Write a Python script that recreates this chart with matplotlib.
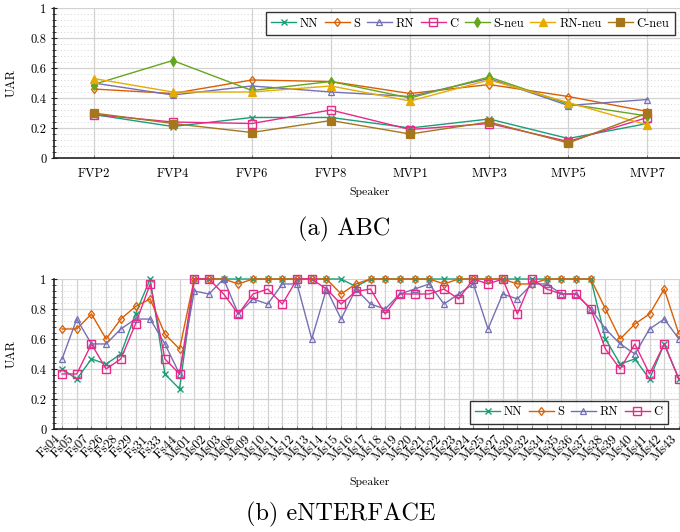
import matplotlib
matplotlib.use("Agg")
import matplotlib.pyplot as plt
import matplotlib.transforms as mtransforms
from matplotlib.ticker import MultipleLocator, FixedLocator, FixedFormatter

# ---------------- data ----------------
abc_speakers = ['FVP2', 'FVP4', 'FVP6', 'FVP8', 'MVP1', 'MVP3', 'MVP5', 'MVP7']
abc_nn = [0.29, 0.21, 0.27, 0.27, 0.20, 0.26, 0.13, 0.23]
abc_s = [0.46, 0.43, 0.52, 0.51, 0.43, 0.49, 0.41, 0.31]
abc_rn = [0.50, 0.42, 0.48, 0.44, 0.41, 0.53, 0.35, 0.39]
abc_c = [0.29, 0.24, 0.23, 0.32, 0.19, 0.23, 0.11, 0.27]
abc_sneu = [0.49, 0.65, 0.45, 0.51, 0.40, 0.54, 0.36, 0.28]
abc_rnneu = [0.53, 0.44, 0.44, 0.48, 0.38, 0.52, 0.37, 0.22]
abc_cneu = [0.30, 0.23, 0.17, 0.25, 0.16, 0.24, 0.10, 0.30]

ent_speakers = ['Fs04', 'Fs05', 'Fs07', 'Fs26', 'Fs28', 'Fs29', 'Fs31', 'Fs33', 'Fs44',
                'Ms01', 'Ms02', 'Ms03', 'Ms08', 'Ms09', 'Ms10', 'Ms11', 'Ms12', 'Ms13',
                'Ms14', 'Ms15', 'Ms16', 'Ms17', 'Ms18', 'Ms19', 'Ms20', 'Ms21', 'Ms22',
                'Ms23', 'Ms24', 'Ms25', 'Ms27', 'Ms30', 'Ms32', 'Ms34', 'Ms35', 'Ms36',
                'Ms37', 'Ms38', 'Ms39', 'Ms40', 'Ms41', 'Ms42', 'Ms43']
ent_nn = [0.400, 0.333, 0.467, 0.433, 0.500, 0.767, 1.000, 0.367, 0.267,
          1.000, 1.000, 1.000, 1.000, 1.000, 1.000, 1.000, 1.000, 1.000,
          1.000, 1.000, 0.950, 1.000, 1.000, 1.000, 1.000, 1.000, 1.000,
          1.000, 1.000, 1.000, 1.000, 1.000, 1.000, 1.000, 1.000, 1.000,
          1.000, 0.600, 0.433, 0.467, 0.333, 0.567, 0.333]
ent_s = [0.667, 0.667, 0.767, 0.600, 0.733, 0.817, 0.867, 0.633, 0.533,
         1.000, 1.000, 1.000, 0.967, 1.000, 1.000, 1.000, 1.000, 1.000,
         1.000, 0.900, 0.967, 1.000, 1.000, 1.000, 1.000, 1.000, 0.967,
         1.000, 1.000, 1.000, 1.000, 0.967, 0.967, 1.000, 1.000, 1.000,
         1.000, 0.800, 0.600, 0.700, 0.767, 0.933, 0.633]
ent_rn = [0.467, 0.733, 0.567, 0.567, 0.667, 0.733, 0.733, 0.567, 0.367,
          0.920, 0.900, 1.000, 0.767, 0.867, 0.833, 0.967, 0.967, 0.600,
          0.933, 0.733, 0.933, 0.833, 0.800, 0.900, 0.933, 0.967, 0.833,
          0.900, 0.967, 0.667, 0.900, 0.867, 0.967, 0.967, 0.900, 0.900,
          0.800, 0.667, 0.567, 0.500, 0.667, 0.733, 0.600]
ent_c = [0.367, 0.367, 0.567, 0.400, 0.467, 0.700, 0.967, 0.467, 0.367,
         1.000, 1.000, 0.900, 0.767, 0.900, 0.933, 0.833, 1.000, 1.000,
         0.933, 0.833, 0.917, 0.933, 0.767, 0.900, 0.900, 0.900, 0.933,
         0.867, 1.000, 0.967, 1.000, 0.767, 1.000, 0.933, 0.900, 0.900,
         0.800, 0.533, 0.400, 0.567, 0.367, 0.567, 0.333]

# ---------------- style ----------------
plt.rcParams['font.family'] = ['cmr10', 'DejaVu Serif']
plt.rcParams['mathtext.fontset'] = 'cm'
plt.rcParams['axes.formatter.use_mathtext'] = True

W, H = 680, 532
fig = plt.figure(figsize=(W / 100, H / 100), dpi=100)

styles = {
    'NN':     dict(color='#1b9e77', marker='x', ms=4, mew=1.0, mfc='none'),
    'S':      dict(color='#d95f02', marker='d', ms=4.5, mew=0.9, mfc='none'),
    'RN':     dict(color='#7570b3', marker='^', ms=5, mew=0.9, mfc='none'),
    'C':      dict(color='#e7298a', marker='s', ms=5.5, mew=1.0, mfc='none'),
    'S-neu':  dict(color='#66a61e', marker='d', ms=5, mew=0.9),
    'RN-neu': dict(color='#e6ab02', marker='^', ms=5.5, mew=0.9),
    'C-neu':  dict(color='#a6761d', marker='s', ms=6, mew=0.9),
}


def style_axes(ax, n):
    ax.set_xlim(-0.5 if n < 20 else -0.55, n - 0.5 if n < 20 else n - 0.45)
    ax.set_ylim(0, 1)
    ax.yaxis.set_major_locator(FixedLocator([0, 0.2, 0.4, 0.6, 0.8, 1.0]))
    ax.yaxis.set_major_formatter(FixedFormatter(['0', '0.2', '0.4', '0.6', '0.8', '1']))
    ax.yaxis.set_minor_locator(MultipleLocator(0.04))
    ax.grid(which='major', color='#d2d2d2', lw=0.9, zorder=0)
    ax.grid(which='minor', axis='y', color='#c8c8c8', ls=(0, (1, 3)), lw=0.6, zorder=0)
    for sp in ('top', 'right'):
        ax.spines[sp].set_visible(False)
    for sp in ('left', 'bottom'):
        ax.spines[sp].set_color('#222222')
        ax.spines[sp].set_linewidth(1.2)
    ax.tick_params(axis='y', which='major', direction='inout', length=5, width=0.8,
                   labelsize=9, pad=3, colors='#222222', labelcolor='black')
    ax.tick_params(axis='y', which='minor', direction='inout', length=3, width=0.6,
                   colors='#222222')
    ax.tick_params(axis='x', which='major', direction='in', length=2.5, width=0.6,
                   colors='#666666', labelcolor='black')
    ax.set_axisbelow(True)


leg_kw = dict(fontsize=9, frameon=True, fancybox=False, edgecolor='black',
              handlelength=2.0, handletextpad=0.3, columnspacing=0.5,
              borderpad=0.45, borderaxespad=0)

# ---------------- top: ABC ----------------
ax1 = fig.add_axes([54 / W, 1 - 158 / H, 633 / W, 150 / H])
x1 = range(len(abc_speakers))
series1 = [('NN', abc_nn), ('S', abc_s), ('RN', abc_rn), ('C', abc_c),
           ('S-neu', abc_sneu), ('RN-neu', abc_rnneu), ('C-neu', abc_cneu)]
handles1 = []
for name, vals in series1:
    h, = ax1.plot(x1, vals, lw=1.0, label=name, zorder=3, clip_on=False, **styles[name])
    handles1.append(h)
style_axes(ax1, len(abc_speakers))
ax1.set_xticks(list(x1))
ax1.set_xticklabels(abc_speakers, fontsize=9)
ax1.tick_params(axis='x', pad=7)
leg1 = fig.legend(handles=handles1, loc='upper right', ncol=7,
                  bbox_to_anchor=(675 / W, 1 - 12 / H), bbox_transform=fig.transFigure,
                  **leg_kw)
leg1.get_frame().set_linewidth(1.0)

fig.text(370 / W, 1 - 192 / H, 'Speaker', ha='center', va='center', fontsize=8.5)
fig.text(12 / W, 1 - 83 / H, 'UAR', ha='center', va='center', rotation=90, fontsize=9)
fig.text(344 / W, 1 - 229 / H, '(a) ABC', ha='center', va='center', fontsize=17.5)

# ---------------- bottom: eNTERFACE ----------------
ax2 = fig.add_axes([54 / W, 1 - 429 / H, 633 / W, 150 / H])
x2 = range(len(ent_speakers))
series2 = [('NN', ent_nn), ('S', ent_s), ('RN', ent_rn), ('C', ent_c)]
handles2 = []
for name, vals in series2:
    h, = ax2.plot(x2, vals, lw=1.0, label=name, zorder=3, clip_on=False, **styles[name])
    handles2.append(h)
style_axes(ax2, len(ent_speakers))
ax2.set_xticks(list(x2))
ax2.set_xticklabels(ent_speakers, fontsize=9.5, rotation=45, ha='right', va='center',
                    rotation_mode='anchor')
ax2.tick_params(axis='x', pad=6)
shift = mtransforms.ScaledTranslation(-4 / 100, 0, fig.dpi_scale_trans)
for lab in ax2.get_xticklabels():
    lab.set_transform(lab.get_transform() + shift)
leg2 = fig.legend(handles=handles2, loc='lower right', ncol=4,
                  bbox_to_anchor=(668 / W, 1 - 424 / H), bbox_transform=fig.transFigure,
                  **leg_kw)
leg2.get_frame().set_linewidth(1.0)

fig.text(370 / W, 1 - 482 / H, 'Speaker', ha='center', va='center', fontsize=8.5)
fig.text(12 / W, 1 - 354 / H, 'UAR', ha='center', va='center', rotation=90, fontsize=9)
fig.text(341 / W, 1 - 514 / H, '(b) eNTERFACE', ha='center', va='center', fontsize=17.5)

fig.savefig('out.png', dpi=100)
